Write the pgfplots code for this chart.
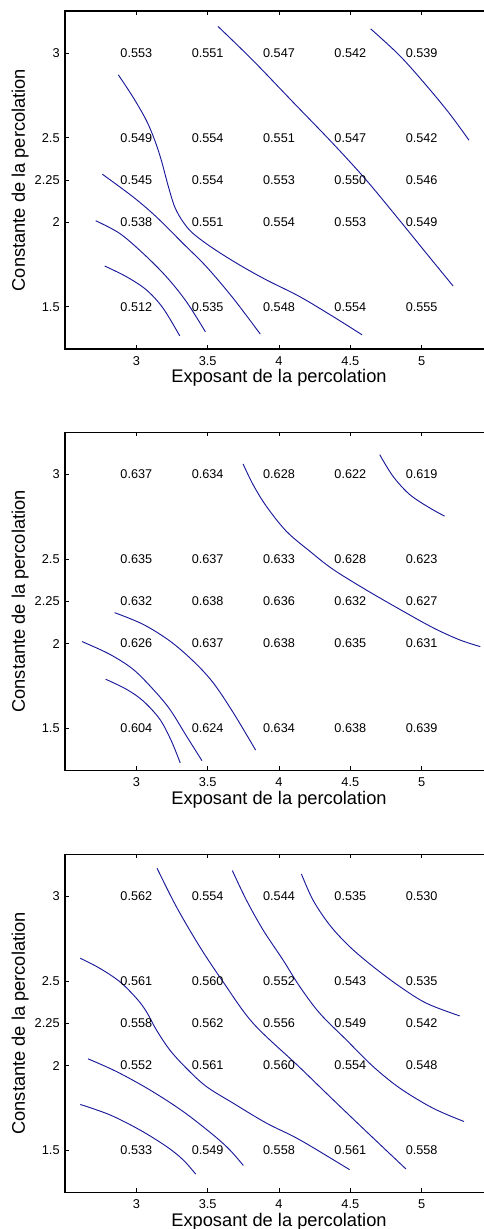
\documentclass[border=0pt]{standalone}
\usepackage{fontspec}
\setmainfont{Liberation Sans}
\usepackage{pgfplots}
\pgfplotsset{compat=1.18}
\definecolor{cline}{rgb}{0.1,0.1,0.6}
\pgfplotsset{
 panel/.style={
  scale only axis, width=321pt, height=253.5pt,
  xmin=2.5, xmax=5.5, ymin=1.25, ymax=3.25,
  xtick={3,3.5,4,4.5,5}, xticklabels={3,3.5,4,4.5,5},
  ytick={1.5,2,2.25,2.5,3}, yticklabels={1.5,2,2.25,2.5,3},
  tick align=inside, major tick length=3pt,
  every tick/.style={black, line width=0.6pt},
  axis line style={line width=1.1pt},
  /pgf/number format/assume math mode=true,
  xticklabel style={font=\fontsize{9.6}{11}\selectfont, anchor=center, yshift=-8.9pt},
  yticklabel style={font=\fontsize{9.6}{11}\selectfont, xshift=-0.5pt},
  xlabel={Exposant de la percolation},
  ylabel={Constante de la percolation},
  label style={font=\fontsize{13.7}{15}\selectfont},
  xlabel style={at={(axis description cs:0.5,-0.0858)}, anchor=center},
  ylabel style={at={(axis description cs:-0.105,0.5)}, anchor=center},
 },
 cl/.style={cline, line width=0.7pt, smooth, tension=0.55, mark=none},
 vals/.style={only marks, mark=none, nodes near coords, point meta=explicit symbolic,
   nodes near coords align=center,
   every node near coord/.append style={anchor=center, font=\fontsize{9.5}{11}\selectfont}},
}
\begin{document}
\begin{tikzpicture}
\path[use as bounding box] (0,0) rectangle (363pt,921.75pt);
% ---------------- panel 1
\begin{axis}[panel, at={(48.75pt,660pt)}, anchor=south west]
\addplot[vals] table[meta=v] {
x y v
3 3 0.553
3.5 3 0.551
4 3 0.547
4.5 3 0.542
5 3 0.539
3 2.5 0.549
3.5 2.5 0.554
4 2.5 0.551
4.5 2.5 0.547
5 2.5 0.542
3 2.25 0.545
3.5 2.25 0.554
4 2.25 0.553
4.5 2.25 0.550
5 2.25 0.546
3 2 0.538
3.5 2 0.551
4 2 0.554
4.5 2 0.553
5 2 0.549
3 1.5 0.512
3.5 1.5 0.535
4 1.5 0.548
4.5 1.5 0.554
5 1.5 0.555
};
\addplot[cl] coordinates {(3.572,3.159) (3.818,2.957) (4.098,2.711) (4.379,2.465) (4.612,2.249) (4.857,1.999) (5.033,1.816) (5.220,1.623)};
\addplot[cl] coordinates {(4.643,3.144) (4.846,2.986) (5.033,2.809) (5.196,2.642) (5.332,2.485)};
\addplot[cl] coordinates {(2.874,2.872) (2.977,2.740) (3.070,2.603) (3.129,2.485) (3.175,2.367) (3.222,2.219) (3.269,2.091) (3.327,2.003) (3.397,1.934) (3.537,1.846) (3.724,1.747) (3.911,1.659) (4.145,1.560) (4.379,1.442) (4.582,1.334)};
\addplot[cl] coordinates {(2.762,2.284) (2.977,2.150) (3.140,2.032) (3.327,1.875) (3.491,1.737) (3.678,1.551) (3.869,1.338)};
\addplot[cl] coordinates {(2.715,2.009) (2.883,1.934) (3.047,1.816) (3.210,1.678) (3.350,1.531) (3.484,1.352)};
\addplot[cl] coordinates {(2.778,1.741) (2.930,1.678) (3.070,1.600) (3.187,1.492) (3.304,1.328)};
\end{axis}
% ---------------- panel 2
\begin{axis}[panel, at={(48.75pt,344pt)}, anchor=south west]
\addplot[vals] table[meta=v] {
x y v
3 3 0.637
3.5 3 0.634
4 3 0.628
4.5 3 0.622
5 3 0.619
3 2.5 0.635
3.5 2.5 0.637
4 2.5 0.633
4.5 2.5 0.628
5 2.5 0.623
3 2.25 0.632
3.5 2.25 0.638
4 2.25 0.636
4.5 2.25 0.632
5 2.25 0.627
3 2 0.626
3.5 2 0.637
4 2 0.638
4.5 2 0.635
5 2 0.631
3 1.5 0.604
3.5 1.5 0.624
4 1.5 0.634
4.5 1.5 0.638
5 1.5 0.639
};
\addplot[cl] coordinates {(3.748,3.063) (3.818,2.941) (3.911,2.813) (4.051,2.665) (4.215,2.547) (4.379,2.439) (4.612,2.317) (4.846,2.203) (5.079,2.094) (5.266,2.022) (5.411,1.982)};
\addplot[cl] coordinates {(4.706,3.118) (4.799,2.990) (4.916,2.882) (5.056,2.803) (5.161,2.754)};
\addplot[cl] coordinates {(2.848,2.183) (3.047,2.114) (3.234,2.016) (3.397,1.898) (3.537,1.770) (3.678,1.593) (3.836,1.370)};
\addplot[cl] coordinates {(2.619,2.012) (2.813,1.937) (2.977,1.848) (3.117,1.730) (3.234,1.612) (3.350,1.455) (3.460,1.307)};
\addplot[cl] coordinates {(2.785,1.789) (2.930,1.730) (3.047,1.661) (3.164,1.553) (3.245,1.425) (3.308,1.293)};
\end{axis}
% ---------------- panel 3
\begin{axis}[panel, at={(48.75pt,27.5pt)}, anchor=south west]
\addplot[vals] table[meta=v] {
x y v
3 3 0.562
3.5 3 0.554
4 3 0.544
4.5 3 0.535
5 3 0.530
3 2.5 0.561
3.5 2.5 0.560
4 2.5 0.552
4.5 2.5 0.543
5 2.5 0.535
3 2.25 0.558
3.5 2.25 0.562
4 2.25 0.556
4.5 2.25 0.549
5 2.25 0.542
3 2 0.552
3.5 2 0.561
4 2 0.560
4.5 2 0.554
5 2 0.548
3 1.5 0.533
3.5 1.5 0.549
4 1.5 0.558
4.5 1.5 0.561
5 1.5 0.558
};
\addplot[cl] coordinates {(3.145,3.168) (3.280,2.941) (3.444,2.704) (3.607,2.497) (3.818,2.251) (4.133,1.999) (4.379,1.798) (4.612,1.610) (4.890,1.388)};
\addplot[cl] coordinates {(2.607,2.635) (2.743,2.576) (2.883,2.497) (3.000,2.399) (3.070,2.320) (3.140,2.212) (3.234,2.093) (3.350,1.985) (3.491,1.876) (3.678,1.778) (3.911,1.660) (4.145,1.561) (4.495,1.384)};
\addplot[cl] coordinates {(3.673,3.154) (3.771,2.980) (3.888,2.803) (4.028,2.625) (4.145,2.468) (4.285,2.310) (4.472,2.152) (4.659,1.995) (4.846,1.867) (5.079,1.748) (5.297,1.669)};
\addplot[cl] coordinates {(4.157,3.134) (4.238,2.980) (4.355,2.832) (4.495,2.704) (4.659,2.586) (4.846,2.468) (5.033,2.369) (5.266,2.294)};
\addplot[cl] coordinates {(2.661,2.040) (2.860,1.965) (3.093,1.857) (3.327,1.729) (3.537,1.591) (3.654,1.502) (3.750,1.409)};
\addplot[cl] coordinates {(2.607,1.770) (2.813,1.709) (3.023,1.620) (3.210,1.522) (3.327,1.443) (3.416,1.358)};
\end{axis}
\end{tikzpicture}
\end{document}
